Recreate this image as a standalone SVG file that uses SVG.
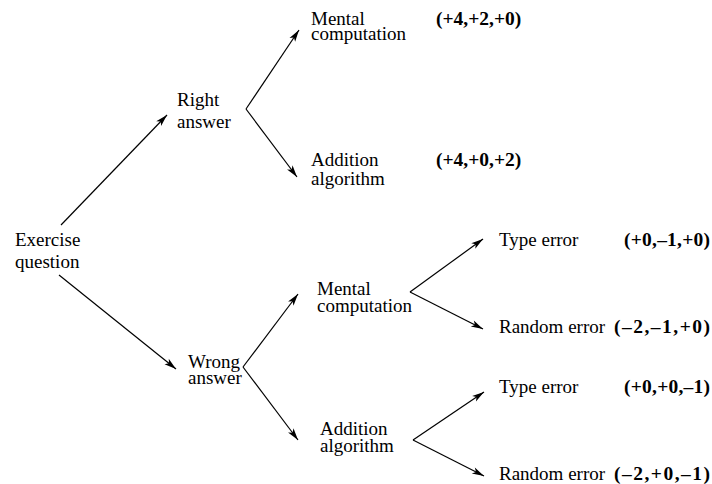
<svg xmlns="http://www.w3.org/2000/svg" width="712" height="484" viewBox="0 0 712 484">
  <style>
    text { font-family: "Liberation Serif", Tinos, "Times New Roman", Times, "DejaVu Serif", serif; font-size: 19px; fill: #000; }
    .b { font-weight: bold; font-size: 19.5px; }
    .e { fill: none; stroke: #000; stroke-width: 1.2; }
  </style>
  <defs>
    <marker id="arr" markerUnits="userSpaceOnUse" viewBox="-13 -5 15 10" refX="0" refY="0" markerWidth="15" markerHeight="10" orient="auto">
      <path d="M0,0 L-12,-3.4 L-9,0 L-12,3.4 Z" fill="#000"/>
    </marker>
  </defs>

  <!-- tree edges -->
  <g id="connectors">
    <line class="e" x1="61" y1="225" x2="167" y2="115" marker-end="url(#arr)"/>
    <line class="e" x1="59" y1="275" x2="176" y2="369" marker-end="url(#arr)"/>
    <line class="e" x1="246" y1="109" x2="299" y2="30" marker-end="url(#arr)"/>
    <line class="e" x1="246" y1="109" x2="297" y2="177" marker-end="url(#arr)"/>
    <line class="e" x1="243" y1="367" x2="298" y2="294" marker-end="url(#arr)"/>
    <line class="e" x1="243" y1="367" x2="298" y2="440" marker-end="url(#arr)"/>
    <line class="e" x1="410" y1="292" x2="483" y2="239" marker-end="url(#arr)"/>
    <line class="e" x1="410" y1="292" x2="483" y2="329" marker-end="url(#arr)"/>
    <line class="e" x1="413" y1="440" x2="484" y2="392" marker-end="url(#arr)"/>
    <line class="e" x1="413" y1="440" x2="484" y2="476" marker-end="url(#arr)"/>
  </g>

  <g id="exercise">
    <text x="15" y="246">Exercise</text>
    <text x="15" y="268">question</text>
  </g>
  <g id="right">
    <text x="177" y="106">Right</text>
    <text x="177" y="128">answer</text>
  </g>
  <g id="wrong">
    <text x="188" y="368">Wrong</text>
    <text x="188" y="384">answer</text>
  </g>
  <g id="right-mental">
    <text x="311" y="25">Mental</text>
    <text x="311" y="40">computation</text>
    <text class="b" x="436" y="25">(+4,+2,+0)</text>
  </g>
  <g id="right-addition">
    <text x="311" y="166">Addition</text>
    <text x="311" y="185">algorithm</text>
    <text class="b" x="436" y="166">(+4,+0,+2)</text>
  </g>
  <g id="wrong-mental">
    <text x="317" y="295">Mental</text>
    <text x="317" y="312">computation</text>
  </g>
  <g id="wrong-addition">
    <text x="320" y="435">Addition</text>
    <text x="320" y="452">algorithm</text>
  </g>
  <g id="mental-type">
    <text x="499" y="246">Type error</text>
    <text class="b" x="624" y="246" textLength="86" lengthAdjust="spacing">(+0,–1,+0)</text>
  </g>
  <g id="mental-random">
    <text x="499" y="333">Random error</text>
    <text class="b" x="614" y="333" textLength="96" lengthAdjust="spacing">(–2,–1,+0)</text>
  </g>
  <g id="addition-type">
    <text x="499" y="393">Type error</text>
    <text class="b" x="624" y="393" textLength="86" lengthAdjust="spacing">(+0,+0,–1)</text>
  </g>
  <g id="addition-random">
    <text x="499" y="480">Random error</text>
    <text class="b" x="614" y="480" textLength="96" lengthAdjust="spacing">(–2,+0,–1)</text>
  </g>
</svg>
